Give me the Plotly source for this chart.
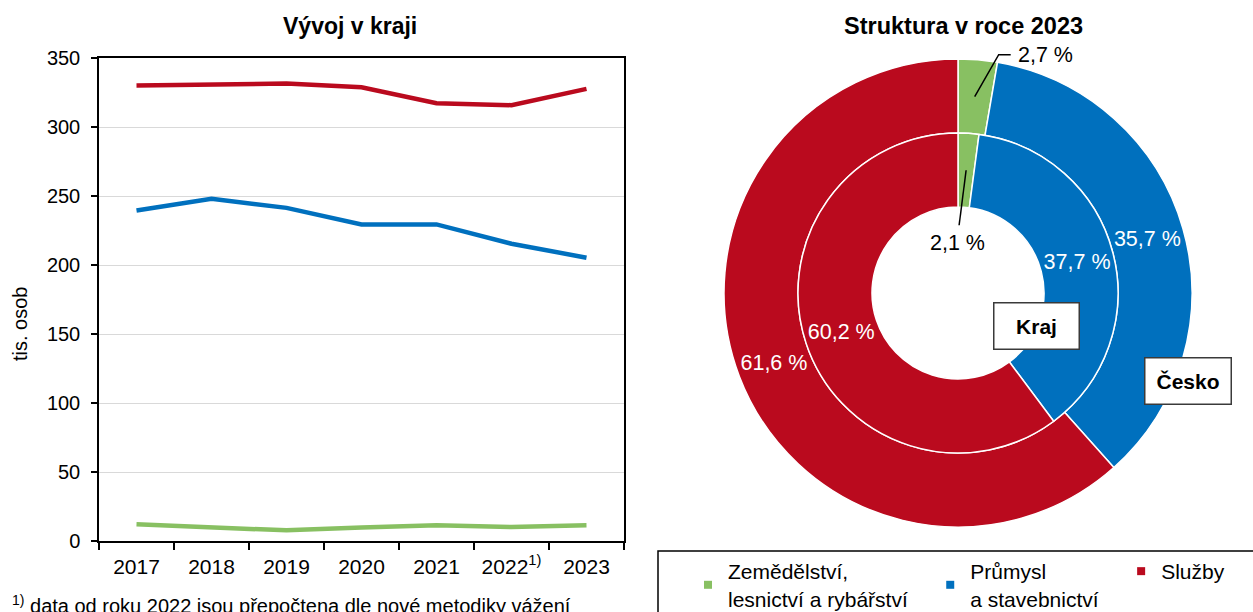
import math

import plotly.graph_objects as go

W, H = 1253, 612
FONT = 'Liberation Sans, Arial, sans-serif'

# --- data ---
years = ['2017', '2018', '2019', '2020', '2021', '2022', '2023']
year_labels = ['2017', '2018', '2019', '2020', '2021', '2022<sup>1)</sup>', '2023']
zemedelstvi = [12.1, 10.0, 7.7, 9.7, 11.4, 10.1, 11.4]
prumysl = [239.5, 248.0, 241.4, 229.4, 229.4, 215.4, 205.3]
sluzby = [330.0, 331.0, 331.5, 328.8, 317.2, 315.8, 327.6]

sectors = ['Zemědělství,<br>lesnictví a rybářství\u00a0\u00a0\u00a0',
           'Průmysl<br>a stavebnictví\u00a0\u00a0\u00a0', 'Služby']
cesko_share = [2.7, 35.7, 61.6]
kraj_share = [2.1, 37.7, 60.2]

GREEN, BLUE, RED = '#88C062', '#0070BE', '#BA0A1E'
colors = [GREEN, BLUE, RED]


def px(x):
    return x / W


def py(y):
    return 1 - y / H


fig = go.Figure()

# line chart (left)
for vals, color in zip([sluzby, prumysl, zemedelstvi], [RED, BLUE, GREEN]):
    fig.add_trace(go.Scatter(x=years, y=vals, mode='lines', showlegend=False, hoverinfo='skip',
                             line=dict(color=color, width=4.5)))

# legend entries (small squares)
for name, color in zip(sectors, colors):
    fig.add_trace(go.Scatter(x=[None], y=[None], mode='markers', name=name,
                             marker=dict(symbol='square', size=8, color=color)))

# donuts (right)
cx, cy = 958, 293
r_out, r_mid, r_in = 234, 160, 86
fig.add_trace(go.Pie(values=cesko_share, labels=sectors, sort=False, direction='clockwise',
                     hole=r_mid / r_out, showlegend=False,
                     domain=dict(x=[px(cx - r_out), px(cx + r_out)], y=[py(cy + r_out), py(cy - r_out)]),
                     marker=dict(colors=colors, line=dict(color='white', width=1.5)),
                     texttemplate='%{value:.1f} %', textposition=['none', 'inside', 'inside'],
                     insidetextorientation='horizontal',
                     textfont=dict(color='white', size=21.5, family=FONT)))
fig.add_trace(go.Pie(values=kraj_share, labels=sectors, sort=False, direction='clockwise',
                     hole=r_in / r_mid, showlegend=False,
                     domain=dict(x=[px(cx - r_mid), px(cx + r_mid)], y=[py(cy + r_mid), py(cy - r_mid)]),
                     marker=dict(colors=colors, line=dict(color='white', width=1.5)),
                     texttemplate='%{value:.1f} %', textposition=['none', 'inside', 'inside'],
                     insidetextorientation='horizontal',
                     textfont=dict(color='white', size=21.5, family=FONT)))


def mid_point(share, radius):
    angle = math.radians(share / 2 / 100 * 360)
    return cx + radius * math.sin(angle), cy - radius * math.cos(angle)


# leader lines for the small green slices
x0, y0 = mid_point(cesko_share[0], (r_out + r_mid) / 2)
outer_path = f'M {px(x0)},{py(y0)} L {px(x0 + 24)},{py(y0 - 42)} L {px(x0 + 36)},{py(y0 - 42)}'
x1, y1 = mid_point(kraj_share[0], (r_mid + r_in) / 2)
inner_path = f'M {px(x1)},{py(y1)} L {px(x1 - 7)},{py(y1 + 55)}'

annotations = [
    dict(text='<b>Vývoj v kraji</b>', x=px(350), y=py(26), font=dict(size=23)),
    dict(text='<b>Struktura v roce 2023</b>', x=px(963), y=py(26), font=dict(size=23.5)),
    dict(text='tis. osob', x=px(20), y=py(324), textangle=-90, font=dict(size=20)),
    dict(text=f'{cesko_share[0]:.1f} %'.replace('.', ','), x=px(x0 + 41), y=py(y0 - 42),
         xanchor='left', font=dict(size=21.5)),
    dict(text=f'{kraj_share[0]:.1f} %'.replace('.', ','), x=px(957), y=py(y1 + 73), font=dict(size=21.5)),
    dict(text='<b>Kraj</b>', x=px(1036), y=py(325.5), width=80, height=41, borderpad=2,
         bordercolor='#3a3a3a', borderwidth=1.5, bgcolor='white', font=dict(size=21)),
    dict(text='<b>Česko</b>', x=px(1188), y=py(381), width=81, height=41, borderpad=2,
         bordercolor='#3a3a3a', borderwidth=1.5, bgcolor='white', font=dict(size=21)),
    dict(text='<sup>1)</sup> data od roku 2022 jsou přepočtena dle nové metodiky vážení',
         x=px(10), y=py(604), xanchor='left', font=dict(size=20)),
]
for a in annotations:
    a.update(xref='paper', yref='paper', showarrow=False)
    a.setdefault('xanchor', 'center')
    a.setdefault('yanchor', 'middle')

shapes = [
    dict(type='path', path=outer_path, xref='paper', yref='paper', line=dict(color='black', width=1.5)),
    dict(type='path', path=inner_path, xref='paper', yref='paper', line=dict(color='black', width=1.5)),
    dict(type='rect', x0=px(658), x1=px(W + 20), y0=py(H + 20), y1=py(551), xref='paper', yref='paper',
         line=dict(color='black', width=1.5)),
]

fig.update_layout(
    width=W, height=H, margin=dict(l=0, r=0, t=0, b=0, autoexpand=False),
    paper_bgcolor='white', plot_bgcolor='white',
    font=dict(family=FONT, size=20, color='black'),
    separators=', ',
    showlegend=True,
    legend=dict(orientation='h', x=px(688), y=py(551), xanchor='left', yanchor='top',
                bgcolor='rgba(0,0,0,0)', font=dict(size=21), traceorder='normal'),
    annotations=annotations, shapes=shapes,
    xaxis=dict(domain=[px(99), px(624)], type='category', tickvals=years, ticktext=year_labels,
               range=[-0.5, len(years) - 0.5],
               tickson='boundaries', ticks='outside', ticklen=7, tickcolor='black', tickwidth=1.5,
               showline=True, linecolor='black', linewidth=1.5, mirror=True, showgrid=False,
               tickfont=dict(size=21), ticklabelstandoff=6),
    yaxis=dict(domain=[py(541), py(58)], range=[0, 350], dtick=50, ticks='outside', ticklen=6,
               tickcolor='black', tickwidth=1.5, showline=True, linecolor='black', linewidth=1.5,
               mirror=True, gridcolor='#D9D9D9', gridwidth=1, zeroline=False,
               tickfont=dict(size=20), ticklabelstandoff=7),
)

fig.write_html('out.html', config={'displayModeBar': False},
               post_script="document.body.style.margin='0';")
